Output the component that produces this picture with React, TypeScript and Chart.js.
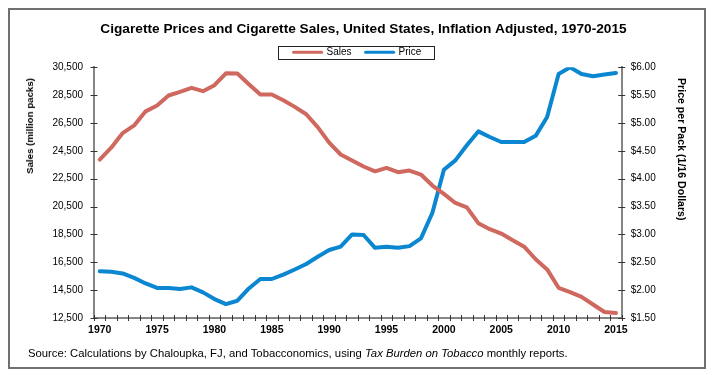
import React, { useEffect, useRef } from "react";
import { Chart, registerables } from "chart.js";

Chart.register(...registerables);

const TITLE = "Cigarette Prices and Cigarette Sales, United States, Inflation Adjusted, 1970-2015";
const SALES_AXIS_TITLE = "Sales (million packs)";
const PRICE_AXIS_TITLE = "Price per Pack (1/16 Dollars)";

const years = [
  "1970", "1971", "1972", "1973", "1974", "1975", "1976", "1977", "1978", "1979",
  "1980", "1981", "1982", "1983", "1984", "1985", "1986", "1987", "1988", "1989",
  "1990", "1991", "1992", "1993", "1994", "1995", "1996", "1997", "1998", "1999",
  "2000", "2001", "2002", "2003", "2004", "2005", "2006", "2007", "2008", "2009",
  "2010", "2011", "2012", "2013", "2014", "2015",
];

const salesMillionPacks = [
  23880, 24730, 25780, 26330, 27340, 27760, 28480, 28740, 29030, 28790,
  29220, 30070, 30060, 29290, 28550, 28550, 28140, 27660, 27130, 26210,
  25090, 24240, 23810, 23380, 23030, 23280, 22970, 23090, 22800, 22010,
  21410, 20760, 20440, 19310, 18880, 18560, 18090, 17620, 16720, 15990,
  14670, 14360, 14020, 13470, 12930, 12860,
];

const pricePerPack = [
  2.34, 2.33, 2.30, 2.22, 2.12, 2.04, 2.04, 2.02, 2.05, 1.96,
  1.84, 1.75, 1.81, 2.03, 2.20, 2.20, 2.28, 2.37, 2.47, 2.60,
  2.72, 2.78, 3.00, 2.99, 2.76, 2.78, 2.76, 2.79, 2.93, 3.39,
  4.16, 4.33, 4.60, 4.85, 4.75, 4.66, 4.66, 4.66, 4.77, 5.11,
  5.88, 6.00, 5.88, 5.84, 5.87, 5.90,
];

const salesMin = 12500;
const salesMax = 30500;
const salesStep = 2000;
const priceMin = 1.5;
const priceMax = 6;
const priceStep = 0.5;

const RED = "#cf685f";
const BLUE = "#0a87d0";
const AXIS = "#858585";
const TICK = "#333333";
const FONT = "Arial, 'Liberation Sans', Helvetica, sans-serif";

const titleShiftPlugin = {
  id: "titleShift",
  afterLayout(chart: any) {
    const tb = chart.titleBlock;
    if (tb) {
      tb.left += 6;
      tb.right += 6;
    }
  },
};

const axisTicksPlugin = {
  id: "axisTicks",
  beforeDatasetsDraw(chart: any) {
    const ctx = chart.ctx;
    const { x, ySales, yPrice } = chart.scales;
    ctx.save();
    ctx.strokeStyle = TICK;
    ctx.lineWidth = 1;
    ctx.beginPath();
    ySales.ticks.forEach((_t: any, i: number) => {
      const py = Math.round(ySales.getPixelForTick(i)) + 0.5;
      ctx.moveTo(ySales.right - 3.5, py);
      ctx.lineTo(ySales.right + 3.5, py);
    });
    yPrice.ticks.forEach((_t: any, i: number) => {
      const py = Math.round(yPrice.getPixelForTick(i)) + 0.5;
      ctx.moveTo(yPrice.left - 3.5, py);
      ctx.lineTo(yPrice.left + 3.5, py);
    });
    const n = chart.data.labels.length;
    for (let i = 0; i <= n; i++) {
      const px = Math.round(x.getPixelForValue(i - 0.5)) + 0.5;
      ctx.moveTo(px, x.top - 3);
      ctx.lineTo(px, x.top + 3);
    }
    ctx.stroke();
    ctx.restore();
  },
};

const legendFramePlugin = {
  id: "legendFrame",
  afterDraw(chart: any) {
    const lg = chart.legend;
    const hb = lg && lg.legendHitBoxes;
    if (!hb || !hb.length) return;
    const first = hb[0];
    const last = hb[hb.length - 1];
    const ctx = chart.ctx;
    const l = Math.round(first.left - 16) + 0.5;
    const r = Math.round(last.left + last.width + 13) + 0.5;
    const t = Math.round(first.top - 1) + 0.5;
    const b = Math.round(first.top + first.height + 2) + 0.5;
    ctx.save();
    ctx.strokeStyle = "#222";
    ctx.lineWidth = 1;
    ctx.strokeRect(l, t, r - l, b - t);
    ctx.restore();
  },
};

export default function App() {
  const canvasRef = useRef<HTMLCanvasElement | null>(null);

  useEffect(() => {
    const canvas = canvasRef.current;
    if (!canvas) return;
    const chart = new Chart(canvas, {
      type: "line",
      data: {
        labels: years,
        datasets: [
          {
            label: "Sales",
            data: salesMillionPacks,
            yAxisID: "ySales",
            borderColor: RED,
            backgroundColor: RED,
            borderWidth: 4,
            pointRadius: 0,
            tension: 0,
            borderJoinStyle: "round",
            borderCapStyle: "round",
          },
          {
            label: "Price",
            data: pricePerPack,
            yAxisID: "yPrice",
            borderColor: BLUE,
            backgroundColor: BLUE,
            borderWidth: 4,
            pointRadius: 0,
            tension: 0,
            borderJoinStyle: "round",
            borderCapStyle: "round",
          },
        ],
      },
      options: {
        responsive: false,
        animation: false,
        events: [],
        layout: { padding: { top: 0, left: 0, right: 0, bottom: 32 } },
        plugins: {
          title: {
            display: true,
            text: TITLE,
            color: "#000",
            font: { family: FONT, size: 13.7, weight: "bold" },
            padding: { top: 20.8, bottom: -3.9 },
          },
          legend: {
            display: true,
            position: "top",
            labels: {
              usePointStyle: true,
              pointStyleWidth: 28,
              padding: 14,
              color: "#000",
              font: { family: FONT, size: 10 },
              generateLabels: (c: any) =>
                c.data.datasets.map((ds: any, i: number) => ({
                  text: ds.label,
                  fillStyle: ds.borderColor,
                  strokeStyle: ds.borderColor,
                  lineWidth: 3,
                  lineCap: "round",
                  pointStyle: "line",
                  hidden: false,
                  datasetIndex: i,
                  fontColor: "#000",
                })),
            },
          },
          tooltip: { enabled: false },
        },
        scales: {
          x: {
            type: "category",
            offset: true,
            grid: { display: false, offset: true, drawTicks: false, tickLength: 0 },
            border: { display: true, color: AXIS, width: 2 },
            ticks: {
              autoSkip: false,
              maxRotation: 0,
              minRotation: 0,
              padding: 6,
              color: "#000",
              font: { family: FONT, size: 10.5, weight: "bold" },
              callback: (_v: any, i: number) => (Number(years[i]) % 5 === 0 ? years[i] : ""),
            },
            afterFit: (s: any) => {
              s.height = 25;
            },
          },
          ySales: {
            type: "linear",
            position: "left",
            min: salesMin,
            max: salesMax,
            grid: { display: false, drawTicks: false, tickLength: 0 },
            border: { display: true, color: AXIS, width: 2 },
            ticks: {
              stepSize: salesStep,
              padding: 11,
              color: "#000",
              font: { family: FONT, size: 10 },
              callback: (v: any) => Number(v).toLocaleString("en-US"),
            },
            afterFit: (s: any) => {
              s.width = 94;
            },
          },
          yPrice: {
            type: "linear",
            position: "right",
            min: priceMin,
            max: priceMax,
            grid: { display: false, drawTicks: false, tickLength: 0 },
            border: { display: true, color: AXIS, width: 2 },
            ticks: {
              stepSize: priceStep,
              padding: 9,
              color: "#000",
              font: { family: FONT, size: 10 },
              callback: (v: any) => "$" + Number(v).toFixed(2),
            },
            afterFit: (s: any) => {
              s.width = 93.3;
            },
          },
        },
      } as any,
      plugins: [titleShiftPlugin, axisTicksPlugin, legendFramePlugin],
    });
    return () => chart.destroy();
  }, []);

  const axisTitleStyle: React.CSSProperties = {
    position: "absolute",
    left: 0,
    top: 0,
    whiteSpace: "nowrap",
    fontFamily: FONT,
    fontWeight: "bold",
    color: "#000",
    transformOrigin: "0 0",
  };

  return (
    <div style={{ position: "fixed", left: 0, top: 0, width: 715, height: 375, background: "#fff", overflow: "hidden" }}>
      <canvas ref={canvasRef} width={715} height={375} style={{ position: "absolute", left: 0, top: 0, width: 715, height: 375 }} />
      <div
        style={{
          ...axisTitleStyle,
          fontSize: 9.7,
          lineHeight: "12px",
          transform: "translate(30px, 78px) rotate(-90deg) translate(-100%, -50%)",
        }}
      >
        {SALES_AXIS_TITLE}
      </div>
      <div
        style={{
          ...axisTitleStyle,
          fontSize: 10.6,
          lineHeight: "12px",
          transform: "translate(682px, 78px) rotate(90deg) translate(0, -50%)",
        }}
      >
        {PRICE_AXIS_TITLE}
      </div>
      <div
        style={{
          position: "absolute",
          left: 28,
          top: 346.5,
          whiteSpace: "nowrap",
          fontFamily: FONT,
          fontSize: 11.3,
          lineHeight: "13px",
          color: "#000",
        }}
      >
        Source: Calculations by Chaloupka, FJ, and Tobacconomics, using <i>Tax Burden on Tobacco</i> monthly reports.
      </div>
      <div
        style={{
          position: "absolute",
          left: 8,
          top: 8,
          width: 694,
          height: 357,
          border: "2px solid #707070",
          pointerEvents: "none",
        }}
      />
    </div>
  );
}
